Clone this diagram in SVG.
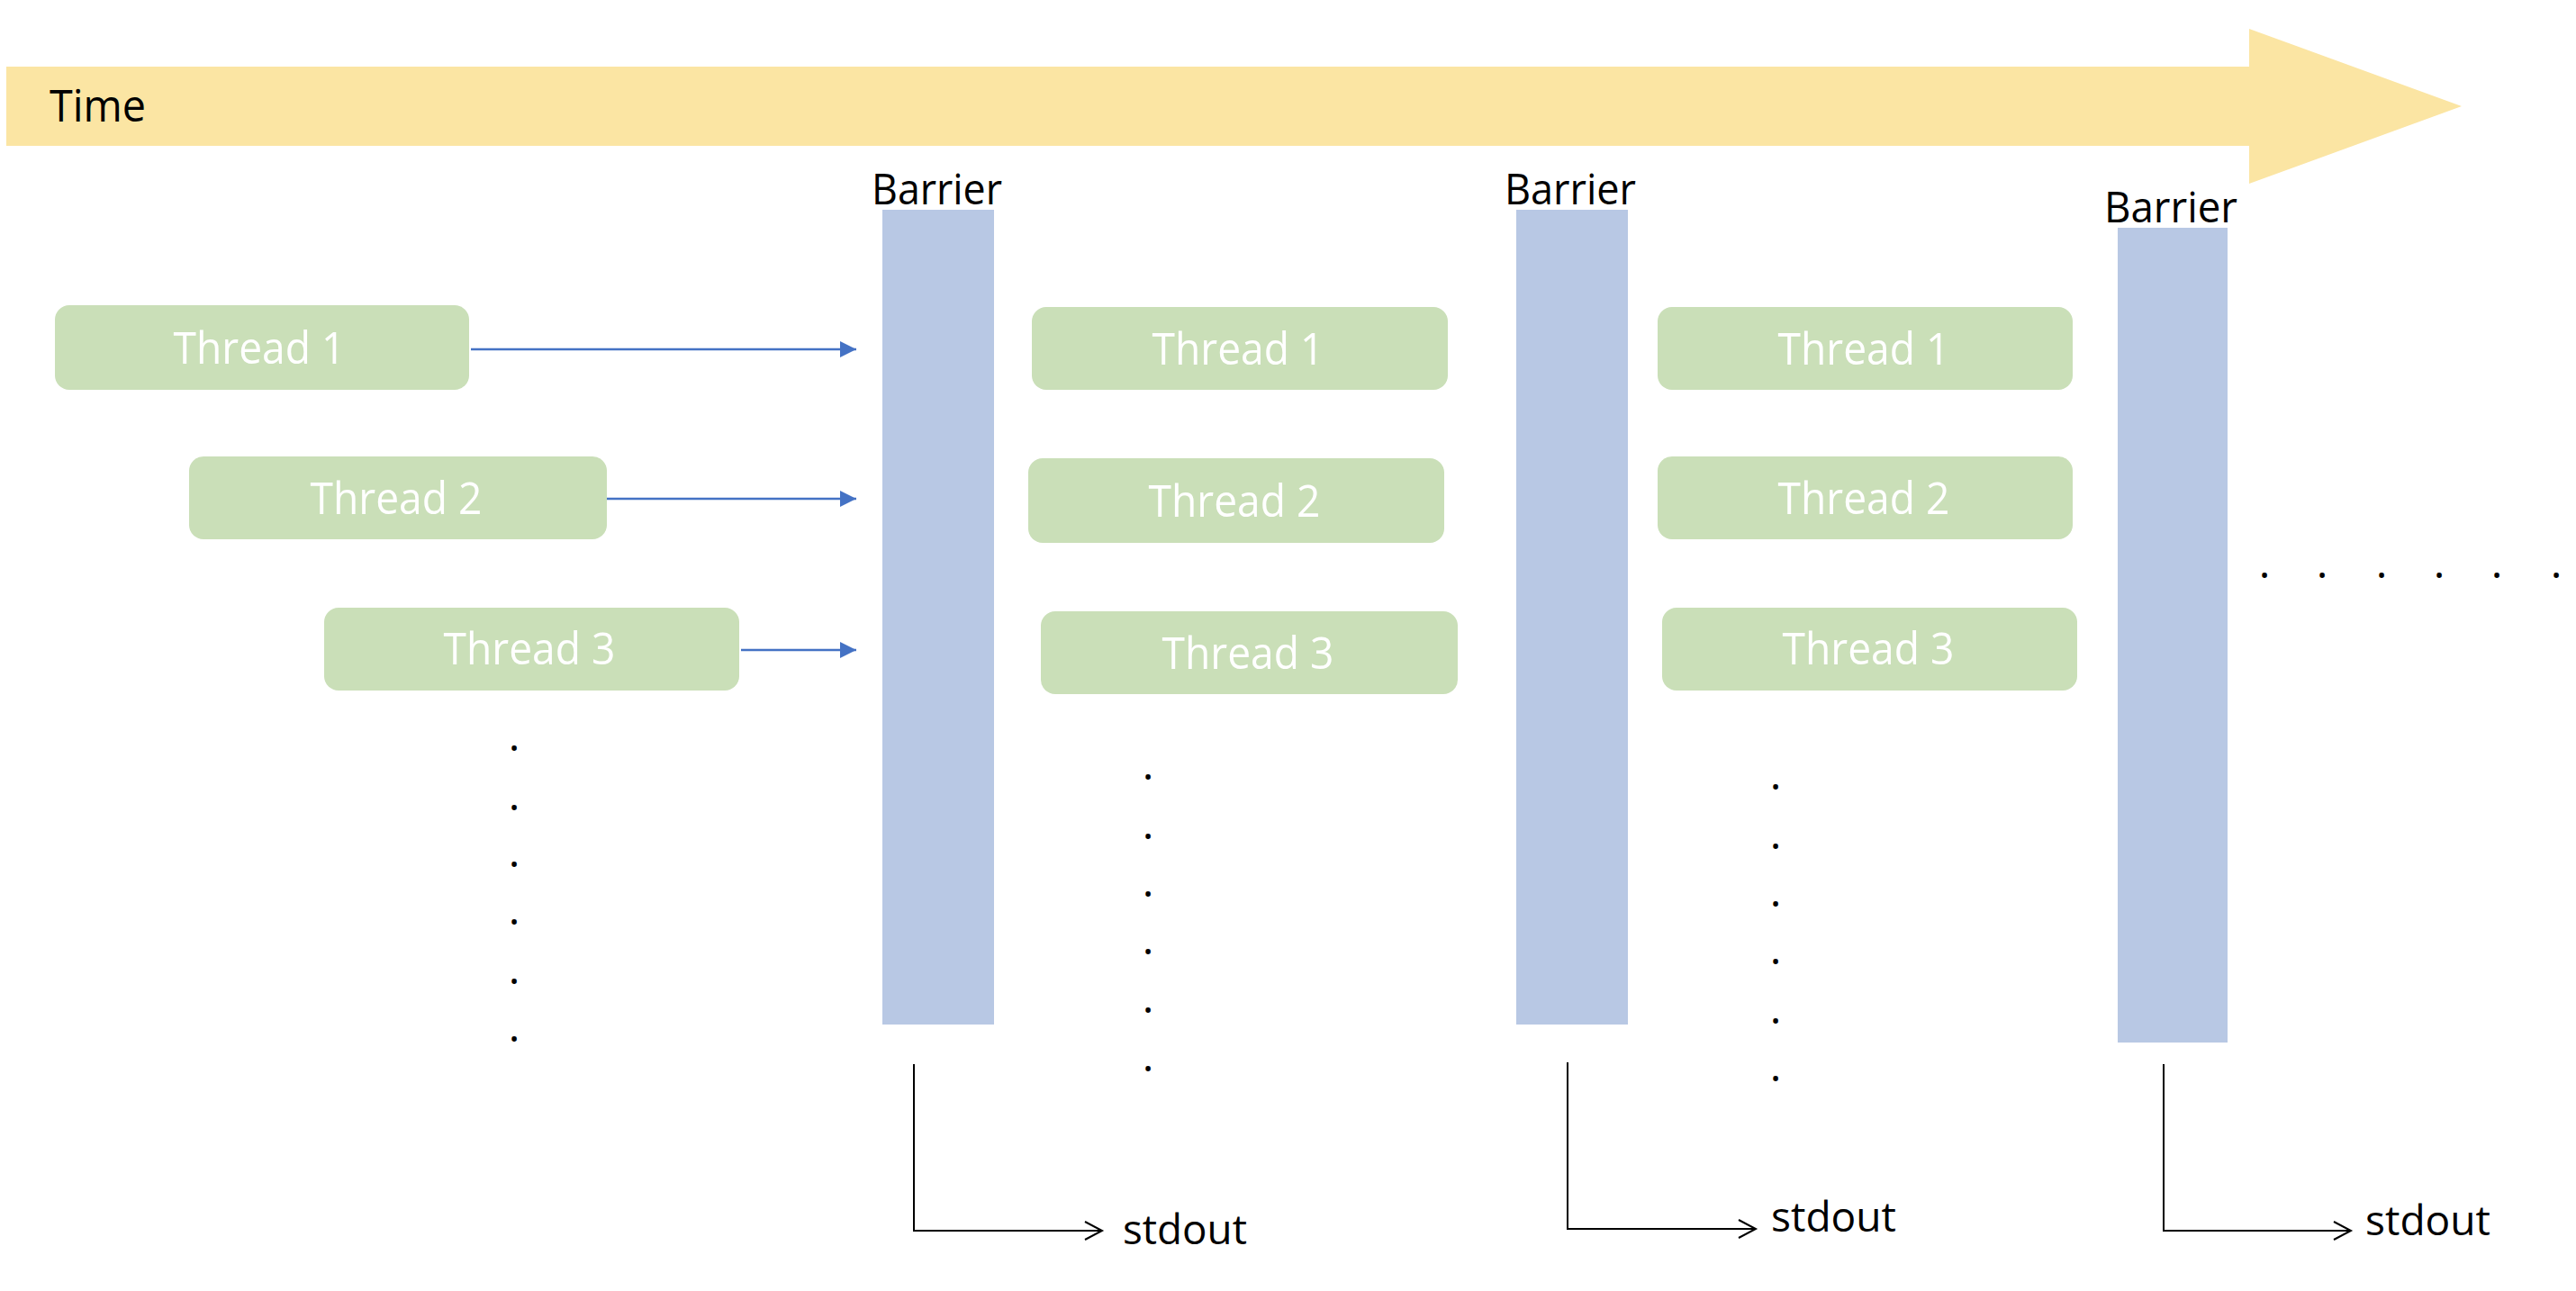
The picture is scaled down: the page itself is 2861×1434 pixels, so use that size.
<svg xmlns="http://www.w3.org/2000/svg" width="2861" height="1434" viewBox="0 0 2861 1434">
<style>
.lbl{font-family:"Open Sans","Liberation Sans",sans-serif;fill:#000000}
.thr{font-family:"Open Sans","Liberation Sans",sans-serif;fill:#ffffff;font-size:50px;text-anchor:middle}
.box{fill:#CADFB8}
.bar{fill:#B8C8E4}
.dot{font-family:"Open Sans","Liberation Sans",sans-serif;font-size:48px;fill:#000000;text-anchor:middle}
.blue{stroke:#4472C4;stroke-width:2.5;fill:none}
.blk{stroke:#000000;stroke-width:2;fill:none}
</style>
<defs>
<marker id="tri" markerUnits="userSpaceOnUse" markerWidth="18" markerHeight="18" refX="18" refY="9" orient="auto" overflow="visible">
<path d="M0,0 L18,9 L0,18 Z" fill="#4472C4"/>
</marker>
<marker id="chev" markerUnits="userSpaceOnUse" markerWidth="22" markerHeight="22" refX="19" refY="10" orient="auto" overflow="visible">
<path d="M0,0 L19,10 L0,20" fill="none" stroke="#000000" stroke-width="2"/>
</marker>
</defs>
<rect width="2861" height="1434" fill="#ffffff"/>

<g id="time">
<polygon points="7,74 2498,74 2498,32 2734,118 2498,204 2498,162 7,162" fill="#FBE5A3"/>
<text class="lbl" x="55" y="135" font-size="49" textLength="107" lengthAdjust="spacingAndGlyphs">Time</text>
</g>

<g id="barrier1">
<rect class="bar" x="980" y="233" width="124" height="905"/>
<text class="lbl" x="968" y="227" font-size="48" textLength="145" lengthAdjust="spacingAndGlyphs">Barrier</text>
</g>
<g id="barrier2">
<rect class="bar" x="1684" y="233" width="124" height="905"/>
<text class="lbl" x="1671" y="227" font-size="48" textLength="146" lengthAdjust="spacingAndGlyphs">Barrier</text>
</g>
<g id="barrier3">
<rect class="bar" x="2352" y="253" width="122" height="905"/>
<text class="lbl" x="2337" y="247" font-size="48" textLength="148" lengthAdjust="spacingAndGlyphs">Barrier</text>
</g>

<g id="c1t1"><rect class="box" x="61" y="339" width="460" height="94" rx="16"/><text class="thr" x="288" y="404" textLength="191" lengthAdjust="spacingAndGlyphs">Thread 1</text></g>
<g id="c1t2"><rect class="box" x="210" y="507" width="464" height="92" rx="16"/><text class="thr" x="440" y="571" textLength="191" lengthAdjust="spacingAndGlyphs">Thread 2</text></g>
<g id="c1t3"><rect class="box" x="360" y="675" width="461" height="92" rx="16"/><text class="thr" x="588" y="738" textLength="191" lengthAdjust="spacingAndGlyphs">Thread 3</text></g>

<g id="c2t1"><rect class="box" x="1146" y="341" width="462" height="92" rx="16"/><text class="thr" x="1375" y="405" textLength="191" lengthAdjust="spacingAndGlyphs">Thread 1</text></g>
<g id="c2t2"><rect class="box" x="1142" y="509" width="462" height="94" rx="16"/><text class="thr" x="1371" y="574" textLength="191" lengthAdjust="spacingAndGlyphs">Thread 2</text></g>
<g id="c2t3"><rect class="box" x="1156" y="679" width="463" height="92" rx="16"/><text class="thr" x="1386" y="743" textLength="191" lengthAdjust="spacingAndGlyphs">Thread 3</text></g>

<g id="c3t1"><rect class="box" x="1841" y="341" width="461" height="92" rx="16"/><text class="thr" x="2070" y="405" textLength="191" lengthAdjust="spacingAndGlyphs">Thread 1</text></g>
<g id="c3t2"><rect class="box" x="1841" y="507" width="461" height="92" rx="16"/><text class="thr" x="2070" y="571" textLength="191" lengthAdjust="spacingAndGlyphs">Thread 2</text></g>
<g id="c3t3"><rect class="box" x="1846" y="675" width="461" height="92" rx="16"/><text class="thr" x="2075" y="738" textLength="191" lengthAdjust="spacingAndGlyphs">Thread 3</text></g>

<g id="dots">
<text class="dot" x="571 571 571 571 571 571" y="834 900 963 1027 1093 1157">......</text>
<text class="dot" x="1275 1275 1275 1275 1275 1275" y="866 932 996 1060 1125 1190">......</text>
<text class="dot" x="1972 1972 1972 1972 1972 1972" y="877 943 1007 1071 1137 1201">......</text>
<text class="dot" x="2515 2579 2645 2709 2773 2839" y="642">......</text>
</g>

<g id="stdout-labels">
<text class="lbl" x="1247" y="1382" font-size="46" textLength="138" lengthAdjust="spacingAndGlyphs">stdout</text>
<text class="lbl" x="1967" y="1368" font-size="46" textLength="139" lengthAdjust="spacingAndGlyphs">stdout</text>
<text class="lbl" x="2627" y="1372" font-size="46" textLength="139" lengthAdjust="spacingAndGlyphs">stdout</text>
</g>

<g id="connectors">
<line class="blue" x1="523" y1="388" x2="951" y2="388" marker-end="url(#tri)"/>
<line class="blue" x1="674" y1="554" x2="951" y2="554" marker-end="url(#tri)"/>
<line class="blue" x1="823" y1="722" x2="951" y2="722" marker-end="url(#tri)"/>
<polyline class="blk" points="1015,1182 1015,1367 1224,1367" marker-end="url(#chev)"/>
<polyline class="blk" points="1741,1180 1741,1365 1950,1365" marker-end="url(#chev)"/>
<polyline class="blk" points="2403,1182 2403,1367 2611,1367" marker-end="url(#chev)"/>
</g>
</svg>
